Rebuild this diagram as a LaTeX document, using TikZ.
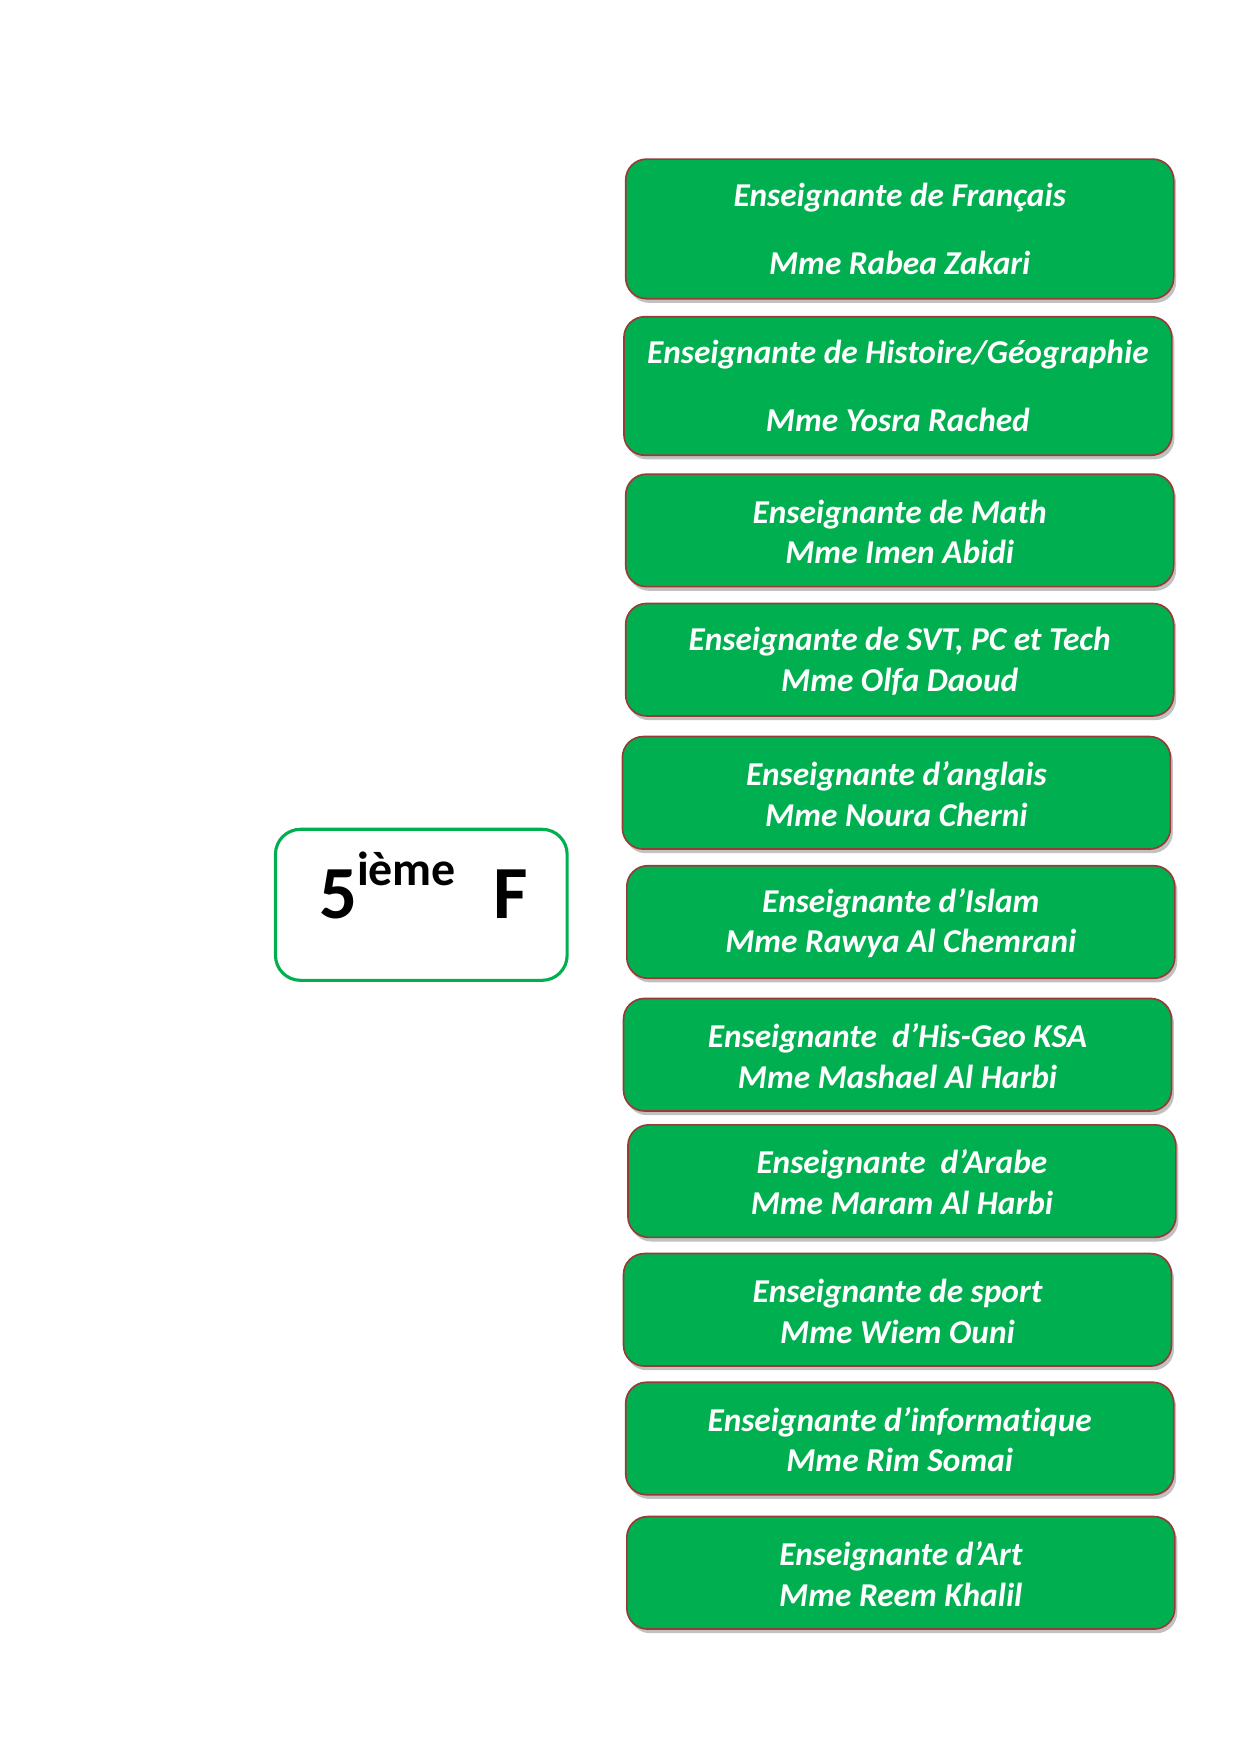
\documentclass[tikz,border=0pt]{standalone}
\usepackage{fontspec}
\setmainfont[Ligatures=NoCommon]{Carlito}
\usetikzlibrary{shadows}
\definecolor{offgreen}{RGB}{0,176,80}
\definecolor{boxedge}{RGB}{150,60,55}
\newcommand\topstrutx{\rule{0pt}{12.6pt}}
\begin{document}
\begin{tikzpicture}[x=0.48pt,y=-0.48pt,
  tbox/.style={rectangle, rounded corners=10pt, draw=boxedge, line width=0.8pt,
    fill=offgreen, minimum width=263pt, minimum height=54pt, inner sep=0pt,
    text=white, font=\fontsize{16}{19.5}\selectfont\bfseries\itshape, align=center,
    drop shadow={shadow xshift=1.2pt, shadow yshift=-2pt, opacity=0.35, fill=black!70}},
  clsbox/.style={rectangle, rounded corners=12pt, draw=offgreen, line width=1.5pt,
    fill=white, minimum width=140pt, minimum height=72.5pt, inner sep=0pt},
  clstext/.style={anchor=base, inner sep=0pt, font=\fontsize{36}{40}\selectfont\bfseries}]
\useasboundingbox (0,0) rectangle (1241,1754);
\node[tbox, minimum height=67pt] (t1) at (899.7,228.9) {Enseignante de Français\\[13pt]Mme Rabea Zakari};
\node[tbox, minimum height=66.5pt] (t2) at (897.9,386) {Enseignante de Histoire/Géographie\\[13pt]Mme Yosra Rached};
\node[tbox] (t3) at (899.7,530.4) {\topstrutx Enseignante de Math\\Mme Imen Abidi};
\node[tbox] (t4) at (899.7,659.7) {\topstrutx Enseignante de SVT, PC et Tech\\Mme Olfa Daoud};
\node[tbox] (t5) at (896.4,792.8) {\topstrutx Enseignante d’anglais\\Mme Noura Cherni};
\node[tbox] (t6) at (900.8,922) {\topstrutx Enseignante d’Islam\\Mme Rawya Al Chemrani};
\node[tbox] (t7) at (897.5,1054.7) {\topstrutx Enseignante\ \ d’His-Geo KSA\\Mme Mashael Al Harbi};
\node[tbox] (t8) at (901.9,1181.1) {\topstrutx Enseignante\ \ d’Arabe\\Mme Maram Al Harbi};
\node[tbox] (t9) at (897.5,1309.8) {\topstrutx Enseignante de sport\\Mme Wiem Ouni};
\node[tbox] (t10) at (899.7,1438.5) {\topstrutx Enseignante d’informatique\\Mme Rim Somai};
\node[tbox] (t11) at (900.8,1572.8) {\topstrutx Enseignante d’Art\\Mme Reem Khalil};
\node[clsbox] (cls) at (421.3,904.8) {};
\node[clstext] (clst) at (423.5,918.5) {5\raisebox{16pt}{\fontsize{23}{26}\selectfont ième}\hspace{18pt}F};
\end{tikzpicture}
\end{document}
